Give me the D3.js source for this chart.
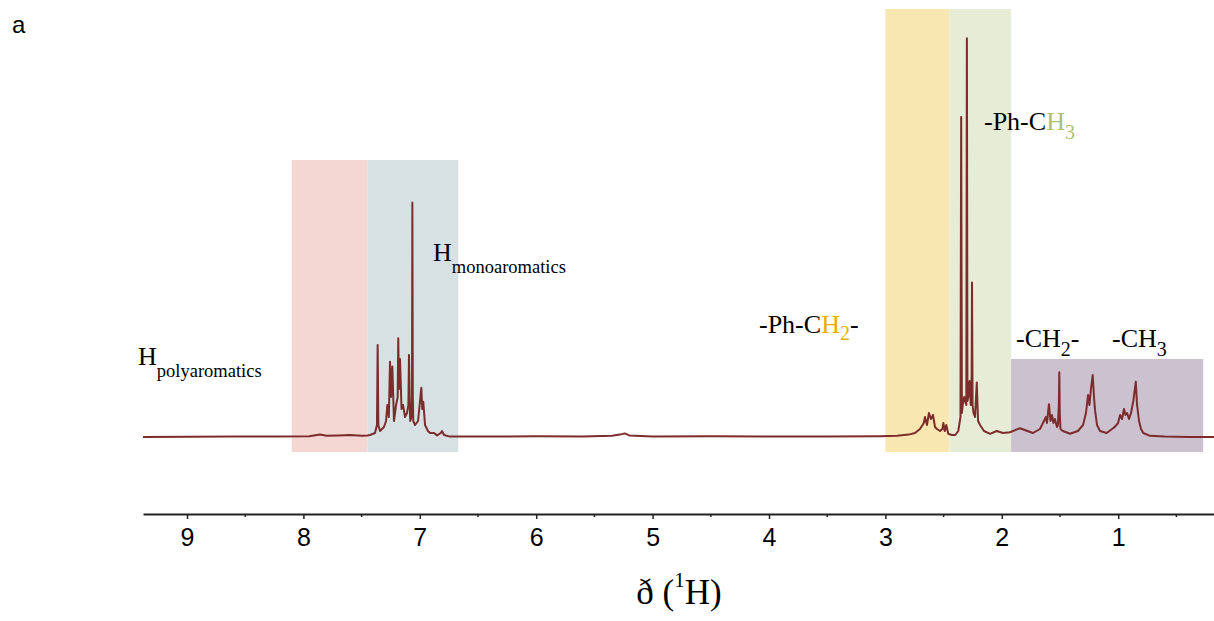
<!DOCTYPE html>
<html><head><meta charset="utf-8">
<script src="https://cdn.jsdelivr.net/npm/d3@7"></script>
<style>body{margin:0;background:#fff}svg{display:block}</style>
</head><body>
<svg id="c" width="1214" height="621"></svg>
<script>
// chemical shift (ppm) and relative intensity of the 1H NMR trace
const shiftPpm = [9.378,8.6,8.2,7.95,7.857,7.8,7.7,7.6,7.5,7.45,7.428,7.385,7.368,7.362,7.356,7.342,7.308,7.29,7.279,7.266,7.256,7.247,7.236,7.222,7.204,7.19,7.185,7.179,7.17,7.157,7.144,7.127,7.11,7.098,7.093,7.086,7.082,7.072,7.067,7.064,7.060,7.056,7.041,7.015,6.998,6.987,6.979,6.970,6.955,6.930,6.912,6.878,6.852,6.82,6.809,6.792,6.741,6.5,6.0,5.6,5.35,5.28,5.24,5.2,5.0,4.5,4.0,3.5,3.046,2.9,2.8,2.746,2.703,2.67,2.660,2.643,2.626,2.609,2.591,2.574,2.557,2.531,2.51,2.502,2.490,2.477,2.460,2.43,2.40,2.374,2.355,2.349,2.343,2.336,2.323,2.305,2.300,2.295,2.289,2.277,2.267,2.260,2.256,2.251,2.243,2.230,2.215,2.204,2.187,2.153,2.101,2.044,1.990,1.930,1.844,1.78,1.732,1.672,1.638,1.621,1.612,1.595,1.582,1.569,1.556,1.544,1.526,1.518,1.510,1.506,1.502,1.496,1.475,1.414,1.346,1.302,1.277,1.259,1.247,1.234,1.219,1.208,1.199,1.182,1.156,1.099,1.053,1.027,1.001,0.984,0.967,0.950,0.937,0.924,0.907,0.890,0.870,0.849,0.838,0.821,0.804,0.785,0.727,0.6,0.4,0.177];
const intensity = [0,0.1,0.1,0.2,0.6,0.3,0.4,0.5,0.3,0.4,0.5,1,3,23,3,1.5,2.5,4,8,5,18.8,10,17.6,4,8,10,24.7,12,19.5,7,8,5,6,8,20.5,8,4,5,10,58.6,10,4,3,4,9,12.3,7,8.8,3,1.5,1,1,0.4,1,1.5,0.5,0.1,0.1,0.2,0.1,0.3,0.6,0.9,0.4,0.1,0.2,0.1,0.1,0.2,0.3,0.6,1,2,3.5,5,3,6,4.5,5.5,2.5,2,1.5,2,3.5,1.5,3,0.8,0.5,0.5,1.5,5,80,6,8,10,8,99.7,9,10,14,8,10,38.6,8,6,5,13.6,4,3,1.5,0.8,1.5,1,1.2,2.2,1.5,1,2,4,5,3.5,8.2,4,5.5,3.5,4.5,2.5,3,8,16.2,6,2,1.5,0.8,1.5,3,6,10.5,8,12,15.5,10,6.7,3,1.5,1,2,2.6,3.5,5.5,4.5,7,5.5,6,4.5,6,9,13.8,8,4,2,1,0.3,0.1,0,0];

// shaded regions: [from ppm, to ppm, bottom, top] and colours
const regionFrom = [8.10,7.45,3.00,2.45,1.92];
const regionTo   = [7.45,6.67,2.45,1.92,0.27];
const regionBottom = [-3.75,-3.75,-3.75,-3.75,-3.75];
const regionTop  = [69.25,69.25,107,107,19.5];
const regionColor = ["#f4d7d2","#d7e1e4","#f9e7b1","#e6ecd5","#cbc1cf"];

const majorTicks = [9,8,7,6,5,4,3,2,1];
const minorTicks = [8.5,7.5,6.5,5.5,4.5,3.5,2.5,1.5,0.5];

const svg = d3.select("#c");
const x = d3.scaleLinear().domain([9.378,0.177]).range([143,1214]);
const y = d3.scaleLinear().domain([0,100]).range([437,37]);

// regions
svg.append("g").selectAll("rect").data(regionFrom).join("rect")
  .attr("x",(d,i)=>x(regionFrom[i]))
  .attr("width",(d,i)=>x(regionTo[i])-x(regionFrom[i]))
  .attr("y",(d,i)=>y(regionTop[i]))
  .attr("height",(d,i)=>y(regionBottom[i])-y(regionTop[i]))
  .attr("fill",(d,i)=>regionColor[i]);

// spectrum
const pts = shiftPpm.map((s,i)=>[s,intensity[i]]);
svg.append("path").datum(pts)
  .attr("d",d3.line().x(d=>x(d[0])).y(d=>y(d[1])))
  .attr("fill","none").attr("stroke","#7d2b2b").attr("stroke-width",2)
  .attr("stroke-linejoin","round");

// axis
const axG = svg.append("g").attr("transform","translate(0,514)");
axG.call(d3.axisBottom(x).tickValues(majorTicks).tickFormat(d3.format("d")).tickSize(5).tickSizeOuter(0).tickPadding(9));
axG.select(".domain").attr("stroke","#222").attr("stroke-width",2);
axG.selectAll(".tick line").attr("stroke","#222").attr("stroke-width",1.5);
axG.selectAll(".tick text").attr("font-family","'Liberation Sans',Arial,sans-serif").attr("font-size",25).attr("fill","#000");
axG.append("g").selectAll("line").data(minorTicks).join("line")
  .attr("x1",d=>x(d)).attr("x2",d=>x(d)).attr("y1",0).attr("y2",3)
  .attr("stroke","#222").attr("stroke-width",1.5);

// axis title
const t = svg.append("text").attr("x",679).attr("y",604).attr("text-anchor","middle")
  .attr("font-family","'Liberation Serif','Times New Roman',serif").attr("font-size",35).attr("fill","#000");
t.append("tspan").text("ð (");
t.append("tspan").attr("font-size",21).attr("dy",-17).text("1");
t.append("tspan").attr("dy",17).text("H)");

// panel letter
svg.append("text").attr("x",12).attr("y",33).attr("font-family","'Liberation Sans',Arial,sans-serif")
  .attr("font-size",24).text("a");

const serif = "'Liberation Serif','Times New Roman',serif";
function label(xp,yp,parts){
  const tx = svg.append("text").attr("x",xp).attr("y",yp).attr("font-family",serif).attr("font-size",26).attr("fill","#000");
  let shift = 0;
  parts.forEach(p=>{
    const sp = tx.append("tspan").text(p.t);
    const target = p.sub ? p.sub : 0;
    sp.attr("dy",target-shift); shift = target;
    if(p.sub) sp.attr("font-size",p.fs||18);
    if(p.c) sp.attr("fill",p.c);
  });
}
label(138,365,[{t:"H"},{t:"polyaromatics",sub:12,fs:18.5}]);
label(433,261,[{t:"H"},{t:"monoaromatics",sub:12,fs:18.5}]);
label(759,333,[{t:"-Ph-C"},{t:"H",c:"#e6b000"},{t:"2",sub:7,fs:20,c:"#e6b000"},{t:"-"}]);
label(984,130,[{t:"-Ph-C"},{t:"H",c:"#b0bf72"},{t:"3",sub:9,fs:20,c:"#b0bf72"}]);
label(1016,347,[{t:"-CH"},{t:"2",sub:9,fs:20},{t:"-"}]);
label(1112,347,[{t:"-CH"},{t:"3",sub:9,fs:20}]);
</script>
</body></html>
